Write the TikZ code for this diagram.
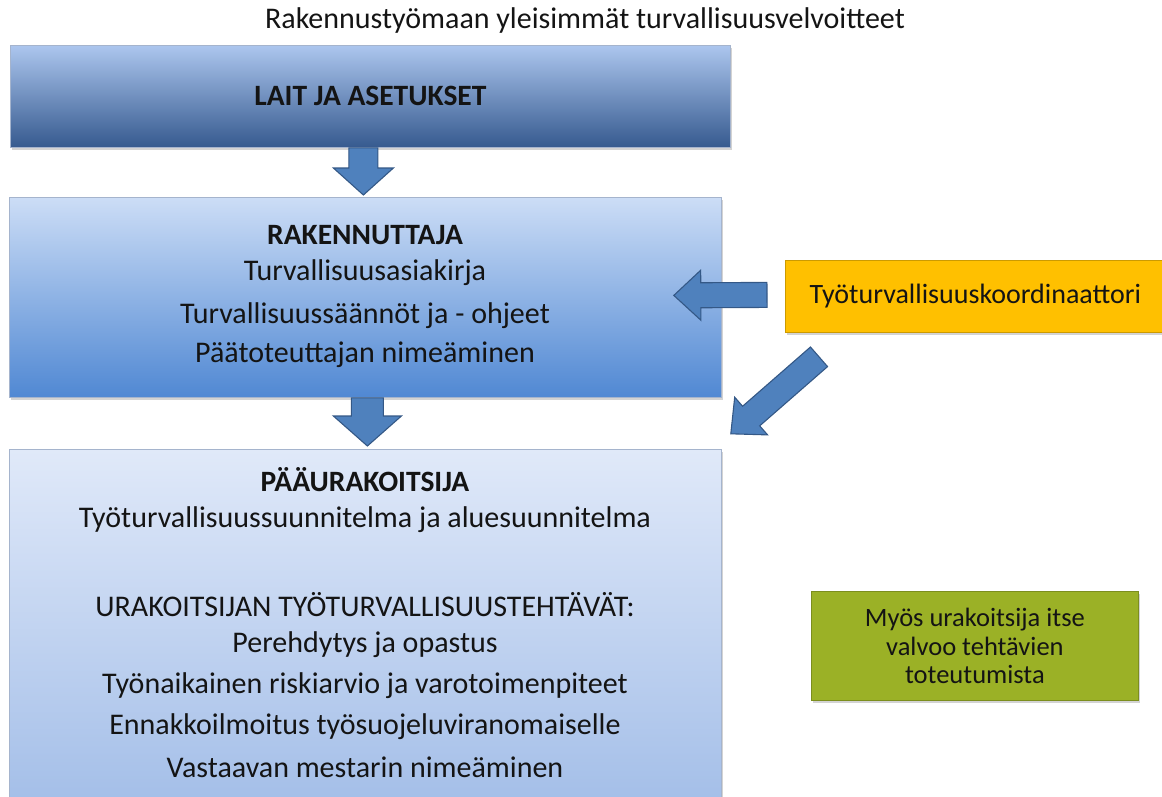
\documentclass[tikz,border=0pt]{standalone}
\usepackage{fontspec}
\setmainfont{Carlito}
\usetikzlibrary{calc,shadows}
\definecolor{lawtop}{RGB}{172,198,238}
\definecolor{lawbot}{RGB}{54,90,143}
\definecolor{raktop}{RGB}{204,221,246}
\definecolor{rakbot}{RGB}{80,136,211}
\definecolor{maintop}{RGB}{224,233,249}
\definecolor{mainbot}{RGB}{156,185,230}
\definecolor{boxedge}{RGB}{165,180,205}
\definecolor{arrowfill}{RGB}{79,129,189}
\definecolor{arrowedge}{RGB}{52,88,134}
\definecolor{coordfill}{RGB}{255,192,0}
\definecolor{greenfill}{RGB}{155,177,38}
\definecolor{txt}{RGB}{20,20,20}
\tikzset{
  box/.style={draw=boxedge, line width=0.8pt, anchor=north west, inner sep=0pt,
    drop shadow={shadow xshift=2pt, shadow yshift=-2.5pt, opacity=0.35}},
  headtxt/.style={font=\fontsize{29.5}{34}\selectfont\bfseries, text=txt},
  bodytxt/.style={font=\fontsize{30}{34}\selectfont, text=txt},
  fatarrow/.style={fill=arrowfill, draw=arrowedge, line width=1.1pt, line join=miter}
}
\newcommand{\blockarrow}[5]{%
  \coordinate (ba-h) at ($(#2)!#5!(#1)$);
  \draw[fatarrow] ($(#1)!#3!90:(#2)$) -- ($(ba-h)!#3!-90:(#1)$) -- ($(ba-h)!#4!-90:(#1)$)
    -- (#2) -- ($(ba-h)!#4!90:(#1)$) -- ($(ba-h)!#3!90:(#1)$) -- ($(#1)!#3!-90:(#2)$) -- cycle;}
\begin{document}
\begin{tikzpicture}[x=1pt,y=-1pt]
\useasboundingbox (0,0) rectangle (1162,796);
\clip (0,0) rectangle (1162,796);

\node[font=\fontsize{30}{34}\selectfont, text=txt] (title) at (585,20) {Rakennustyömaan yleisimmät turvallisuusvelvoitteet};

\node[box, top color=lawtop, bottom color=lawbot, minimum width=720pt, minimum height=102pt] (laws) at (10,45) {};
\node[headtxt] (lawstxt) at (laws.center) {LAIT JA ASETUKSET};

\node[box, top color=raktop, bottom color=rakbot, minimum width=712pt, minimum height=200pt] (rak) at (9,197) {};
\node[headtxt] (rak1) at (365,235) {RAKENNUTTAJA};
\node[bodytxt] (rak2) at (365,273) {Turvallisuusasiakirja};
\node[bodytxt] (rak3) at (365,316) {Turvallisuussäännöt ja - ohjeet};
\node[bodytxt] (rak4) at (365,355) {Päätoteuttajan nimeäminen};

\node[box, top color=maintop, bottom color=mainbot, minimum width=712pt, minimum height=400pt] (main) at (9,449) {};
\node[headtxt] (m1) at (365,480) {PÄÄURAKOITSIJA};
\node[bodytxt] (m2) at (365,520) {Työturvallisuussuunnitelma ja aluesuunnitelma};
\node[bodytxt] (m3) at (365,605) {URAKOITSIJAN TYÖTURVALLISUUSTEHTÄVÄT:};
\node[bodytxt] (m4) at (365,645) {Perehdytys ja opastus};
\node[bodytxt] (m5) at (365,686) {Työnaikainen riskiarvio ja varotoimenpiteet};
\node[bodytxt] (m6) at (365,727) {Ennakkoilmoitus työsuojeluviranomaiselle};
\node[bodytxt] (m7) at (365,767) {Vastaavan mestarin nimeäminen};

\node[box, draw=coordfill!80!black, fill=coordfill, minimum width=380pt, minimum height=72pt] (coord) at (785,260) {};
\node[bodytxt, font=\fontsize{28}{32}\selectfont] (coordtxt) at (coord.center) {Työturvallisuuskoordinaattori};

\node[box, draw=greenfill!80!black, fill=greenfill, minimum width=327pt, minimum height=109pt] (green) at (811,591) {};
\node[bodytxt, align=center, font=\fontsize{26.5}{28.5}\selectfont] (greentxt) at (green.center) {Myös urakoitsija itse\\valvoo tehtävien\\toteutumista};

% block arrows
\coordinate (a1s) at ($(laws.south)+(-7,0)$);
\coordinate (a1e) at ($(rak.north)+(-2,-2)$);
\blockarrow{a1s}{a1e}{14.5pt}{30pt}{27pt}

\coordinate (a2s) at ($(rak.south)+(2,0)$);
\coordinate (a2e) at ($(main.north)+(2,-3)$);
\blockarrow{a2s}{a2e}{16pt}{34pt}{30pt}

\coordinate (a3s) at ($(coord.west)+(-18,-1.5)$);
\coordinate (a3e) at ($(rak.east)+(-48,-2)$);
\blockarrow{a3s}{a3e}{12.5pt}{25pt}{27pt}

\coordinate (a4s) at ($(coord.south west)+(34,24)$);
\coordinate (a4e) at ($(rak.south east)+(9,36)$);
\blockarrow{a4s}{a4e}{13pt}{25pt}{27pt}
\end{tikzpicture}
\end{document}
